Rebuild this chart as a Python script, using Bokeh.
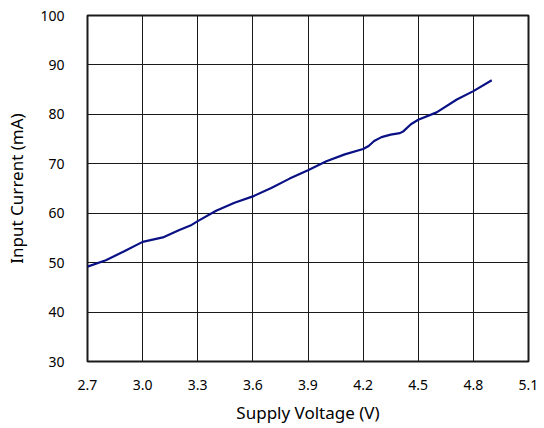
from bokeh.plotting import figure
from bokeh.models import Range1d, FixedTicker, NumeralTickFormatter
from bokeh.embed import file_html
from bokeh.resources import INLINE

voltage = [2.70, 2.80, 2.90, 3.00, 3.11, 3.20, 3.26, 3.30, 3.40, 3.50, 3.60, 3.70, 3.80,
           3.90, 4.00, 4.10, 4.20, 4.23, 4.26, 4.30, 4.35, 4.40, 4.42, 4.46, 4.50,
           4.60, 4.71, 4.80, 4.90]
current = [49.2, 50.5, 52.3, 54.2, 55.1, 56.6, 57.5, 58.4, 60.5, 62.1, 63.4, 65.1, 67.0,
           68.7, 70.5, 71.9, 73.0, 73.6, 74.6, 75.4, 75.9, 76.2, 76.6, 78.0, 78.9,
           80.4, 83.0, 84.7, 86.9]

x_ticks = [2.7, 3.0, 3.3, 3.6, 3.9, 4.2, 4.5, 4.8, 5.1]
y_ticks = [30, 40, 50, 60, 70, 80, 90, 100]

font = "Noto Sans"

p = figure(width=544, height=428, output_backend="svg", toolbar_location=None,
           x_range=Range1d(2.7, 5.1), y_range=Range1d(30, 100),
           min_border_left=87, min_border_right=16, min_border_top=15, min_border_bottom=67)

p.line(voltage, current, line_color="#0a1185", line_width=2.2)

p.xaxis.ticker = FixedTicker(ticks=x_ticks)
p.yaxis.ticker = FixedTicker(ticks=y_ticks)
p.xaxis.formatter = NumeralTickFormatter(format="0.0")
p.yaxis.formatter = NumeralTickFormatter(format="0")

for ax in (p.xaxis[0], p.yaxis[0]):
    ax.axis_line_color = None
    ax.major_tick_line_color = None
    ax.minor_tick_line_color = None
    ax.major_label_text_font = font
    ax.major_label_text_font_size = "14px"
    ax.major_label_text_color = "black"
    ax.axis_label_text_font = font
    ax.axis_label_text_font_size = "17px"
    ax.axis_label_text_font_style = "normal"
    ax.axis_label_text_color = "black"

p.xaxis.axis_label = "Supply Voltage (V)"
p.yaxis.axis_label = "Input Current (mA)"
p.xaxis.major_label_standoff = 12
p.yaxis.major_label_standoff = 17
p.xaxis.axis_label_standoff = 8
p.yaxis.axis_label_standoff = 9

p.xgrid.grid_line_color = "#1a1a1a"
p.ygrid.grid_line_color = "#1a1a1a"
p.xgrid.grid_line_width = 1
p.ygrid.grid_line_width = 1
p.outline_line_color = "#1a1a1a"
p.outline_line_width = 2
p.background_fill_color = "white"
p.border_fill_color = "white"

open("out.html", "w").write(file_html(p, INLINE))
